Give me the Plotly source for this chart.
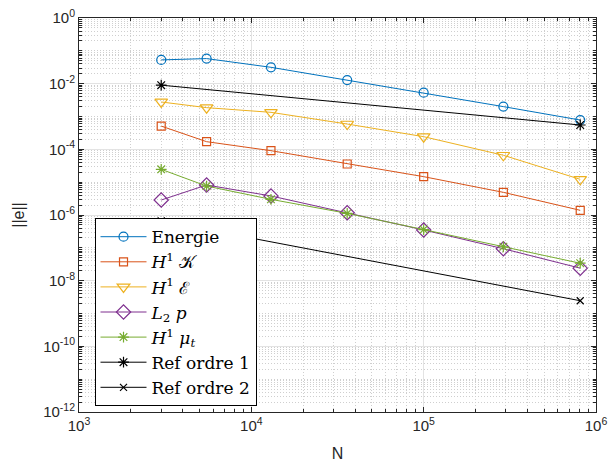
import numpy as np
import plotly.graph_objects as go

# Number of unknowns for each mesh refinement level
N = [3000, 5500, 13000, 36000, 100000, 290000, 810000]

# Error norms per quantity
err_energie = [5.3e-2, 5.8e-2, 3.15e-2, 1.29e-2, 5.3e-3, 2.0e-3, 7.8e-4]
err_h1_k = [5.1e-4, 1.71e-4, 9.1e-5, 3.57e-5, 1.47e-5, 4.9e-6, 1.39e-6]
err_h1_eps = [2.77e-3, 1.86e-3, 1.34e-3, 5.9e-4, 2.43e-4, 6.6e-5, 1.22e-5]
err_l2_p = [2.86e-6, 8.2e-6, 3.8e-6, 1.17e-6, 3.5e-7, 9.4e-8, 2.4e-8]
err_h1_mut = [2.46e-5, 7.6e-6, 3.0e-6, 1.12e-6, 3.6e-7, 1.08e-7, 3.4e-8]

# Reference slopes (two end points each)
N_ref = [3000, 810000]
ref_ordre1 = [9.0e-3, 5.5e-4]
ref_ordre2 = [6.6e-7, 2.45e-9]

y_tick_exps = [0, -2, -4, -6, -8, -10, -12]
x_tick_exps = [3, 4, 5, 6]

colors = ["#0072BD", "#D95319", "#EDB120", "#7E2F8E", "#77AC30", "#000000", "#000000"]

fig = go.Figure()

series = [
    (N, err_energie, "Energie", "circle-open", 9),
    (N, err_h1_k, "<i>H</i><sup>1</sup> \U0001D4A6", "square-open", 8),
    (N, err_h1_eps, "<i>H</i><sup>1</sup> \u2130", "triangle-down-open", 11),
    (N, err_l2_p, "<i>L</i><sub>2</sub> <i>p</i>", "diamond-open", 11),
    (N, err_h1_mut, "<i>H</i><sup>1</sup> <i>\u03bc<sub>t</sub></i>", "asterisk-open", 9),
    (N_ref, ref_ordre1, "Ref ordre 1", "asterisk-open", 9),
    (N_ref, ref_ordre2, "Ref ordre 2", "x-thin-open", 7),
]

for (xs, ys, name, sym, size), col in zip(series, colors):
    fig.add_trace(go.Scatter(
        x=xs, y=ys, name=name, mode="lines+markers",
        line=dict(color=col, width=1),
        marker=dict(symbol=sym, size=size, color=col, line=dict(color=col, width=1.2)),
    ))

axis_col = "#262626"
grid_major = "#e3e3e3"
grid_minor = "#cfcfcf"

# minor positions: every 1..9 multiple of each decade that is not a labelled tick
y_minor = []
for e in range(-12, 0):
    for m in range(1, 10):
        v = m * 10.0 ** e
        if m == 1 and e in y_tick_exps:
            continue
        y_minor.append(v)
x_minor = []
for e in range(3, 6):
    for m in range(2, 10):
        x_minor.append(m * 10.0 ** e)

fig.update_xaxes(
    type="log", range=[3, 6], automargin=False,
    tickvals=[10.0 ** e for e in x_tick_exps],
    ticktext=[f"10<sup>{e}</sup>" for e in x_tick_exps],
    ticks="inside", ticklen=5, tickcolor=axis_col, tickwidth=1,
    showline=True, linecolor=axis_col, linewidth=1, mirror="allticks",
    showgrid=True, gridcolor=grid_major, gridwidth=1,
    minor=dict(tickmode="array", tickvals=x_minor, ticks="inside", ticklen=3,
               tickcolor=axis_col, showgrid=True, gridcolor=grid_minor,
               griddash="1px,2px", gridwidth=1),
    tickfont=dict(family="Liberation Sans", size=15, color=axis_col),
    title=dict(text="N", font=dict(family="Liberation Sans", size=16, color=axis_col), standoff=14),
    zeroline=False,
)
fig.update_yaxes(
    type="log", range=[-12, 0], automargin=False,
    tickvals=[10.0 ** e for e in y_tick_exps],
    ticktext=[f"10<sup>{e}</sup>" for e in y_tick_exps],
    ticks="inside", ticklen=5, tickcolor=axis_col, tickwidth=1,
    showline=True, linecolor=axis_col, linewidth=1, mirror="allticks",
    showgrid=True, gridcolor=grid_major, gridwidth=1,
    minor=dict(tickmode="array", tickvals=y_minor, ticks="inside", ticklen=3,
               tickcolor=axis_col, showgrid=True, gridcolor=grid_minor,
               griddash="1px,2px", gridwidth=1),
    tickfont=dict(family="Liberation Sans", size=15, color=axis_col),
    title=dict(text="||e||", font=dict(family="Liberation Sans", size=16, color=axis_col), standoff=14),
    zeroline=False,
)

fig.update_layout(
    width=608, height=464,
    margin=dict(l=79, r=12, t=18, b=52, autoexpand=False),
    paper_bgcolor="white", plot_bgcolor="white",
    showlegend=True,
    legend=dict(
        x=0.03, y=0.492, xanchor="left", yanchor="top",
        bgcolor="white", bordercolor="#000000", borderwidth=1,
        font=dict(family="DejaVu Serif", size=17, color="#000000"),
        itemwidth=46, tracegroupgap=0,
    ),
)

fig.write_html("out.html")
